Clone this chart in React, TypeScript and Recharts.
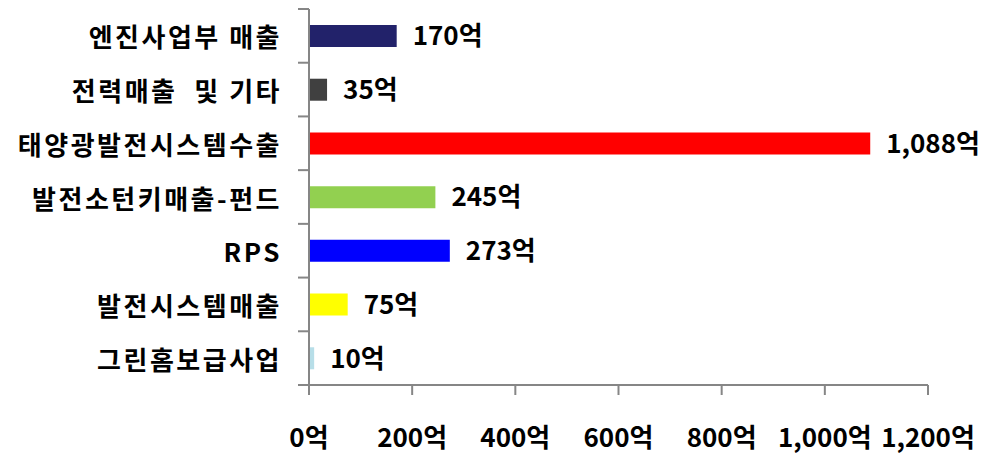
import { BarChart, Bar, XAxis, YAxis, LabelList, Cell } from "recharts"

const categories = ["엔진사업부 매출", "전력매출  및 기타", "태양광발전시스템수출", "발전소턴키매출-펀드", "RPS", "발전시스템매출", "그린홈보급사업"]
const values = [170, 35, 1088, 245, 273, 75, 10]
const colors = ["#22226A", "#404040", "#FF0000", "#92D050", "#0000FF", "#FFFF00", "#B7DEE8"]
const xTicks = [0, 200, 400, 600, 800, 1000, 1200]

const data = categories.map((name, i) => ({ name, value: values[i], color: colors[i] }))

const W = 998
const H = 453
const TOP = 9
const XAXIS_H = 68
const YAXIS_W = 309
const AXIS = "#868686"
const FONT = "'Noto Sans CJK KR', 'Noto Sans', sans-serif"

const fmt = (v: number) => `${v.toLocaleString("en-US")}억`

const CatTick = (props: any) => {
  const { payload, index } = props
  const band = (H - TOP - XAXIS_H) / categories.length
  const y = payload.coordinate
  return (
    <g>
      <line x1={YAXIS_W - 11} x2={YAXIS_W} y1={y - band / 2} y2={y - band / 2} stroke={AXIS} strokeWidth={2} />
      {index === categories.length - 1 && (
        <line x1={YAXIS_W - 11} x2={YAXIS_W} y1={y + band / 2} y2={y + band / 2} stroke={AXIS} strokeWidth={2} />
      )}
      <text
        x={YAXIS_W - 27}
        y={y}
        textAnchor="end"
        dominantBaseline="central"
        fontSize={26}
        letterSpacing={2.5}
        fontWeight="bold"
        fontFamily={FONT}
        fill="#000"
        xmlSpace="preserve"
        style={{ whiteSpace: "pre" }}
      >
        {payload.value}
      </text>
    </g>
  )
}

export default function App() {
  return (
    <div style={{ position: "absolute", left: 0, top: 0, background: "#fff" }}>
      <BarChart width={W} height={H} data={data} layout="vertical" margin={{ top: TOP, right: 70, bottom: 0, left: 0 }}>
        <XAxis
          type="number"
          domain={[0, 1200]}
          ticks={xTicks}
          tickFormatter={fmt}
          height={XAXIS_H}
          stroke={AXIS}
          strokeWidth={2}
          tickSize={10}
          tickMargin={34}
          tick={{ fill: "#000", fontSize: 26, fontWeight: "bold", fontFamily: FONT }}
          interval={0}
        />
        <YAxis
          type="category"
          dataKey="name"
          width={YAXIS_W}
          stroke={AXIS}
          strokeWidth={2}
          tickLine={false}
          tick={<CatTick />}
          interval={0}
        />
        <Bar dataKey="value" barSize={22} isAnimationActive={false}>
          {data.map((d) => (
            <Cell key={d.name} fill={d.color} />
          ))}
          <LabelList dataKey="value" position="right" offset={16} formatter={(v: any) => fmt(Number(v))} fill="#000" fontSize={26} fontWeight="bold" fontFamily={FONT} />
        </Bar>
      </BarChart>
    </div>
  )
}
